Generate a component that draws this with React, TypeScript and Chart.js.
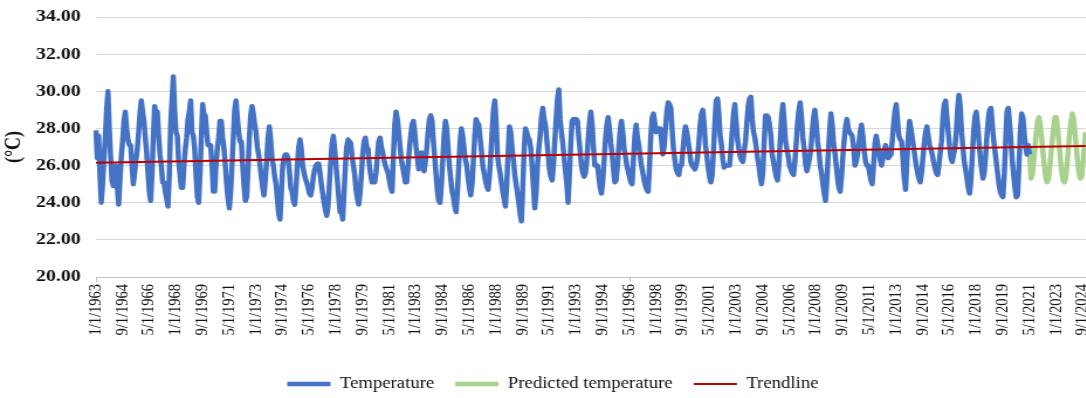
import React, { useEffect, useRef } from 'react';
import { Chart, registerables } from 'chart.js';

Chart.register(...registerables);

// ---------- data ----------
const START_YEAR = 1963;
const TOTAL_MONTHS = 743; // 1/1/1963 .. 12/1/2024
const categories: string[] = [];
for (let m = 0; m < TOTAL_MONTHS; m++) {
  categories.push(`${(m % 12) + 1}/1/${START_YEAR + Math.floor(m / 12)}`);
}
const LABEL_EVERY = 20;

// Monthly observed temperature (°C), Jan 1963 .. May 2021
const temperature: number[] = [
  27.9, 26.4, 27.6, 25.5, 24.0, 25.0, 26.4, 27.5, 29.0, 30.0, 28.0, 26.5, // 1963
  25.2, 24.9, 25.5, 26.0, 24.8, 23.9, 25.2, 26.5, 27.3, 28.4, 28.9, 28.0, // 1964
  27.4, 27.1, 27.1, 26.0, 25.0, 25.6, 26.3, 26.9, 27.8, 28.8, 29.5, 28.9, // 1965
  28.4, 27.5, 26.7, 25.6, 24.6, 24.1, 25.5, 27.5, 29.2, 28.7, 28.9, 27.6, // 1966
  26.6, 26.0, 25.1, 25.1, 24.6, 24.2, 23.8, 25.5, 28.2, 29.5, 30.8, 29.0, // 1967
  27.8, 27.6, 26.2, 25.5, 24.8, 24.8, 26.0, 26.9, 27.5, 28.5, 28.9, 29.5, // 1968
  27.8, 27.6, 26.9, 25.5, 24.3, 24.0, 25.5, 27.5, 29.3, 28.7, 28.7, 27.8, // 1969
  27.1, 27.1, 27.1, 26.0, 24.6, 24.6, 26.0, 26.9, 27.5, 28.4, 28.4, 27.5, // 1970
  26.9, 26.0, 25.0, 24.2, 23.7, 24.6, 26.0, 27.5, 29.0, 29.5, 28.6, 27.8, // 1971
  27.3, 27.3, 26.0, 24.9, 24.1, 24.3, 25.8, 27.5, 28.7, 29.2, 28.8, 28.2, // 1972
  27.8, 27.0, 26.6, 26.0, 25.4, 24.8, 24.4, 25.2, 26.3, 27.5, 28.1, 27.4, // 1973
  26.4, 26.0, 25.4, 25.0, 24.2, 23.4, 23.1, 24.5, 26.0, 26.4, 26.6, 26.6, // 1974
  26.4, 25.7, 24.8, 24.6, 24.1, 23.9, 24.8, 26.0, 27.0, 27.4, 26.9, 26.0, // 1975
  25.6, 25.3, 25.1, 24.8, 24.5, 24.4, 24.8, 25.4, 25.8, 26.0, 26.1, 26.1, // 1976
  25.6, 25.0, 24.5, 24.0, 23.6, 23.3, 23.8, 25.0, 26.2, 27.2, 27.6, 26.9, // 1977
  26.0, 25.2, 24.3, 23.5, 23.6, 23.1, 24.5, 26.0, 27.0, 27.4, 27.3, 27.2, // 1978
  26.5, 26.0, 25.5, 24.7, 24.2, 23.9, 24.5, 25.5, 26.6, 27.3, 27.5, 27.0, // 1979
  26.9, 26.0, 25.5, 25.1, 25.3, 25.1, 25.6, 26.5, 27.3, 27.5, 27.0, 26.7, // 1980
  26.3, 26.0, 25.8, 25.6, 25.2, 24.8, 24.6, 26.5, 28.2, 28.9, 28.5, 27.8, // 1981
  27.0, 26.3, 25.9, 25.5, 25.1, 25.1, 26.0, 26.9, 27.6, 28.2, 28.4, 27.8, // 1982
  27.0, 26.4, 25.8, 26.3, 26.7, 26.2, 25.7, 26.2, 26.9, 27.8, 28.5, 28.7, // 1983
  28.4, 27.3, 26.4, 25.5, 24.6, 24.1, 24.0, 25.0, 26.3, 27.6, 28.4, 28.0, // 1984
  26.9, 26.0, 25.3, 24.6, 24.3, 23.8, 23.5, 24.6, 26.0, 27.3, 28.0, 27.6, // 1985
  26.9, 26.3, 26.0, 25.3, 24.8, 24.4, 25.0, 26.3, 27.6, 28.5, 28.3, 28.2, // 1986
  27.5, 26.8, 26.0, 25.6, 25.2, 24.9, 24.7, 25.4, 26.5, 27.8, 29.0, 29.5, // 1987
  28.4, 26.6, 26.0, 25.6, 25.1, 24.6, 24.2, 23.8, 25.0, 26.7, 28.1, 27.8, // 1988
  26.9, 26.3, 25.5, 25.0, 24.5, 24.0, 23.4, 23.0, 24.8, 26.8, 28.0, 27.8, // 1989
  27.5, 27.4, 26.9, 26.0, 24.8, 23.7, 24.5, 26.0, 26.9, 27.6, 28.6, 29.1, // 1990
  28.5, 28.2, 27.4, 26.6, 25.8, 25.4, 25.2, 26.0, 27.3, 28.5, 29.6, 30.1, // 1991
  28.5, 27.8, 27.2, 26.4, 25.7, 25.0, 24.0, 25.5, 27.2, 28.4, 28.5, 28.3, // 1992
  28.5, 28.4, 27.5, 26.8, 26.0, 25.6, 25.4, 25.6, 26.3, 27.4, 28.3, 28.9, // 1993
  28.2, 27.0, 26.0, 26.0, 26.0, 25.4, 24.8, 24.5, 25.2, 26.3, 27.4, 28.2, // 1994
  28.6, 28.0, 27.2, 26.6, 25.8, 25.1, 25.2, 26.0, 27.0, 27.9, 28.4, 27.8, // 1995
  26.9, 26.5, 26.0, 25.7, 25.4, 25.1, 25.0, 26.4, 27.6, 28.2, 27.5, 27.1, // 1996
  26.5, 26.0, 25.6, 25.2, 24.9, 24.7, 24.6, 25.9, 27.6, 28.6, 28.8, 28.3, // 1997
  27.8, 27.9, 28.0, 28.0, 27.4, 26.6, 27.0, 28.0, 28.9, 29.4, 29.3, 29.1, // 1998
  27.9, 26.9, 26.3, 25.8, 25.6, 25.5, 26.0, 26.0, 26.8, 27.6, 28.1, 27.8, // 1999
  27.3, 26.8, 26.2, 26.0, 25.9, 25.8, 26.0, 26.4, 27.2, 28.2, 28.8, 29.0, // 2000
  28.2, 27.1, 26.5, 25.9, 25.4, 25.1, 25.5, 26.8, 28.3, 29.5, 29.6, 28.8, // 2001
  27.6, 27.1, 26.3, 25.9, 26.0, 26.0, 26.0, 26.0, 26.8, 27.8, 28.8, 29.3, // 2002
  28.3, 27.4, 26.9, 26.5, 26.3, 26.2, 26.8, 27.3, 28.3, 29.2, 29.6, 29.7, // 2003
  28.5, 27.8, 27.5, 27.0, 26.4, 26.0, 25.4, 25.0, 25.6, 27.3, 28.7, 28.7, // 2004
  28.6, 28.2, 27.6, 26.6, 26.2, 25.8, 25.4, 25.2, 26.0, 27.3, 28.6, 29.3, // 2005
  28.4, 27.3, 26.9, 26.5, 26.0, 25.8, 25.6, 25.5, 26.2, 27.2, 28.3, 29.0, // 2006
  29.4, 28.6, 27.5, 26.9, 26.1, 25.7, 26.0, 26.4, 26.9, 27.8, 28.6, 29.0, // 2007
  28.3, 27.3, 26.8, 26.0, 25.6, 25.0, 24.5, 24.1, 25.2, 26.6, 27.8, 28.8, // 2008
  28.2, 27.2, 26.7, 26.0, 25.3, 24.8, 24.6, 25.4, 26.5, 27.4, 28.1, 28.5, // 2009
  28.0, 27.8, 27.7, 27.6, 27.0, 26.0, 26.2, 26.6, 27.2, 27.8, 28.2, 27.6, // 2010
  26.8, 26.2, 26.0, 26.0, 25.6, 25.2, 25.0, 26.0, 27.2, 27.6, 27.2, 26.7, // 2011
  26.3, 26.0, 26.4, 26.8, 27.1, 26.8, 26.4, 26.5, 26.6, 27.3, 28.2, 28.9, // 2012
  29.3, 28.4, 27.6, 27.4, 27.3, 26.4, 25.3, 24.7, 26.2, 27.6, 28.4, 28.0, // 2013
  27.5, 27.0, 26.5, 26.0, 25.6, 25.3, 25.1, 25.6, 26.4, 27.2, 27.8, 28.1, // 2014
  27.6, 27.1, 26.9, 26.6, 26.2, 25.9, 25.6, 25.5, 26.0, 26.7, 27.3, 28.6, // 2015
  29.3, 29.5, 28.6, 27.8, 27.0, 26.4, 26.2, 26.6, 26.9, 27.8, 29.1, 29.8, // 2016
  29.2, 27.8, 27.0, 26.2, 25.8, 25.3, 24.8, 24.5, 25.2, 26.5, 27.8, 28.6, // 2017
  28.9, 28.2, 27.3, 26.5, 25.8, 25.3, 25.6, 26.5, 27.6, 28.5, 29.0, 29.1, // 2018
  28.2, 27.4, 26.8, 26.2, 25.6, 25.0, 24.6, 24.4, 24.3, 25.5, 27.3, 28.9, // 2019
  29.1, 28.3, 27.3, 26.3, 25.5, 24.8, 24.3, 24.4, 26.0, 27.8, 28.8, 28.6, // 2020
  27.7, 27.0, 26.6, 27.1, 26.6, // 2021
];

// Predicted temperature (°C), May 2021 .. Dec 2024
const PREDICTED_START = 700;
const predicted: number[] = [
  26.6, 25.3, 25.5, 26.2, 27.0, 27.8, 28.4, 28.6, 28.2, 27.5, 26.7, 26.0,
  25.4, 25.1, 25.2, 25.8, 26.6, 27.4, 28.1, 28.6, 28.6, 28.0, 27.2, 26.4,
  25.7, 25.2, 25.1, 25.3, 26.0, 26.9, 27.7, 28.4, 28.8, 28.5, 27.8, 27.0,
  26.2, 25.6, 25.3, 25.4, 26.1, 27.0, 27.8,
];

// Linear trendline end points (°C)
const trendStart = 26.15;
const trendEnd = 27.05;

const Y_MIN = 20;
const Y_MAX = 34;
const Y_STEP = 2;

// ---------- layout ----------
const SCALE_X = 1.17;
const CANVAS_W = 945;
const CANVAS_H = 402;
const FONT = "'Liberation Serif', 'Times New Roman', Times, serif";

export default function App() {
  const canvasRef = useRef<HTMLCanvasElement | null>(null);

  useEffect(() => {
    const canvas = canvasRef.current;
    if (!canvas) return;

    const predictedData = categories.map((_, i) =>
      i >= PREDICTED_START && i - PREDICTED_START < predicted.length ? predicted[i - PREDICTED_START] : null
    );
    const trendData = [
      { x: categories[0], y: trendStart },
      { x: categories[categories.length - 1], y: trendEnd },
    ];

    const chart = new Chart(canvas, {
      type: 'line',
      data: {
        labels: categories,
        datasets: [
          {
            label: 'Temperature',
            data: temperature,
            borderColor: '#4472C4',
            backgroundColor: '#4472C4',
            borderWidth: 4.5,
            pointRadius: 0,
            tension: 0,
            borderJoinStyle: 'round',
            order: 1,
          },
          {
            label: 'Predicted temperature',
            data: predictedData,
            borderColor: '#A9D18E',
            backgroundColor: '#A9D18E',
            borderWidth: 4.5,
            pointRadius: 0,
            tension: 0,
            borderJoinStyle: 'round',
            order: 2,
          },
          {
            label: 'Trendline',
            data: trendData as any,
            borderColor: '#C00000',
            backgroundColor: '#C00000',
            borderWidth: 2,
            pointRadius: 0,
            tension: 0,
            order: 0,
          },
        ],
      },
      options: {
        responsive: false,
        animation: false,
        events: [],
        layout: { padding: { left: 0, right: 0, top: 17, bottom: 0 } },
        plugins: {
          tooltip: { enabled: false },
          legend: {
            position: 'bottom',
            labels: {
              usePointStyle: true,
              pointStyle: 'line',
              pointStyleWidth: 37,
              padding: 18,
              color: '#111',
              font: { family: FONT, size: 16 },
              sort: (a: any, b: any) => a.datasetIndex - b.datasetIndex,
            },
          },
        },
        scales: {
          x: {
            type: 'category',
            grid: {
              display: true,
              drawOnChartArea: false,
              drawTicks: true,
              tickLength: 5,
              color: (ctx: any) => (ctx.index % LABEL_EVERY === 0 ? '#bfbfbf' : 'rgba(0,0,0,0)'),
            },
            border: { display: true, color: '#bfbfbf' },
            ticks: {
              autoSkip: false,
              maxRotation: 90,
              minRotation: 90,
              padding: 2,
              color: '#111',
              font: { family: FONT, size: 14.5 },
              callback: (_v: any, i: number) => (i % LABEL_EVERY === 0 ? categories[i] : null),
            },
            afterFit: (s: any) => {
              s.height = 81;
            },
          },
          y: {
            min: Y_MIN,
            max: Y_MAX,
            ticks: {
              stepSize: Y_STEP,
              padding: 0,
              color: '#111',
              font: { family: FONT, size: 17, weight: 'bold' },
              callback: (v: any) => Number(v).toFixed(2),
            },
            grid: {
              color: '#d9d9d9',
              drawTicks: true,
              tickLength: 13,
              tickColor: 'rgba(0,0,0,0)',
              lineWidth: 1,
            },
            border: { display: false },
            title: {
              display: true,
              text: '(°C)',
              color: '#111',
              font: { family: FONT, size: 18, weight: 'bold' },
              padding: { top: 2, bottom: 0 },
            },
            afterFit: (s: any) => {
              s.width = 82;
            },
          },
        },
      },
    });

    return () => chart.destroy();
  }, []);

  return (
    <div
      style={{
        position: 'fixed',
        left: 0,
        top: 0,
        width: 1086,
        height: 398,
        overflow: 'hidden',
        background: '#fff',
      }}
    >
      <div
        style={{
          width: CANVAS_W,
          height: CANVAS_H,
          transform: `scaleX(${SCALE_X})`,
          transformOrigin: '0 0',
        }}
      >
        <canvas ref={canvasRef} width={CANVAS_W} height={CANVAS_H} style={{ width: CANVAS_W, height: CANVAS_H, display: 'block' }} />
      </div>
    </div>
  );
}
